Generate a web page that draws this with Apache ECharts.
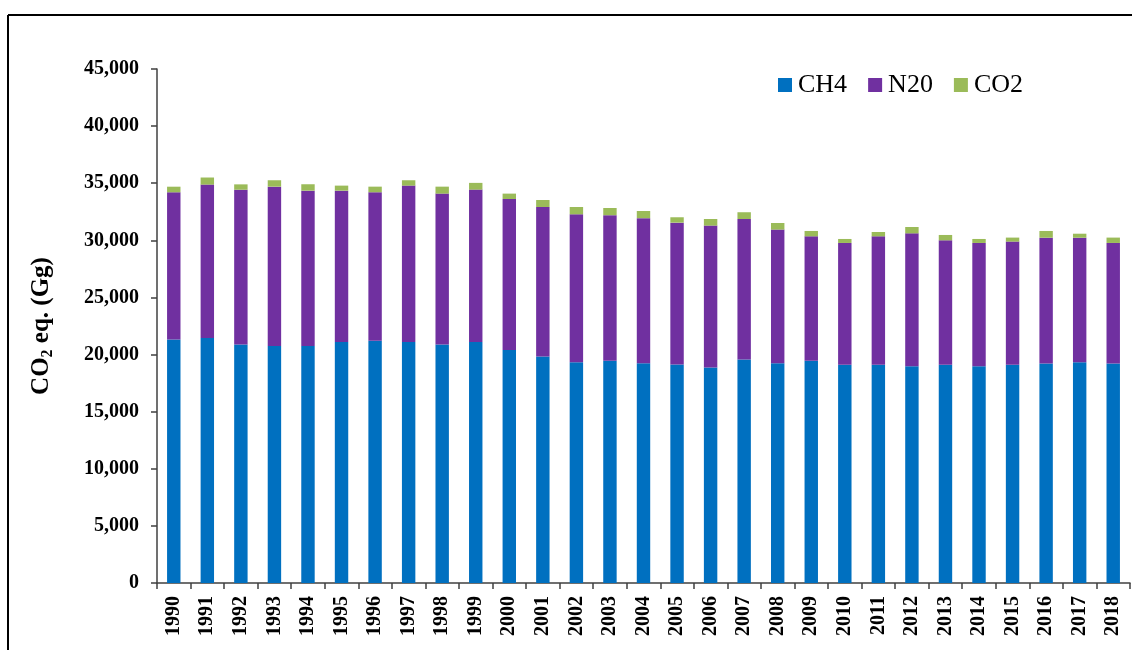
<!DOCTYPE html>
<html>
<head>
<meta charset="utf-8">
<script src="https://cdn.jsdelivr.net/npm/echarts@6/dist/echarts.min.js"></script>
<style>
html,body{margin:0;padding:0;background:#fff;}
#chart{width:1132px;height:650px;}
</style>
</head>
<body>
<div id="chart"></div>
<script>
const years = ['1990','1991','1992','1993','1994','1995','1996','1997','1998','1999','2000','2001','2002','2003','2004','2005','2006','2007','2008','2009','2010','2011','2012','2013','2014','2015','2016','2017','2018'];
const ch4 = [21316,21440,20880,20740,20740,21090,21200,21090,20880,21090,20390,19830,19330,19450,19240,19120,18860,19560,19240,19450,19100,19100,18980,19100,18980,19100,19220,19330,19220];
const n2o = [12890,13440,13550,13960,13610,13260,13010,13700,13210,13350,13230,13090,12950,12750,12700,12430,12430,12310,11700,10900,10670,11250,11630,10900,10790,10790,11010,10900,10550];
const co2 = [490,620,470,560,560,440,490,470,610,590,470,610,640,630,630,470,580,590,580,470,350,380,560,470,350,350,590,350,470];
const seriesNames = ['CH4','N20','CO2'];
const yTicks = {min:0, max:45000, interval:5000};

const FONT = "'Liberation Serif','Times New Roman',serif";
const chart = echarts.init(document.getElementById('chart'), null, {renderer:'canvas'});
const mk = (name, data, color) => ({
  name, type:'bar', stack:'total', data, barWidth:'40%',
  itemStyle:{color}, emphasis:{disabled:true}
});
chart.setOption({
  animation:false,
  backgroundColor:'#fff',
  textStyle:{fontFamily:FONT},
  grid:{left:157, right:2, top:69, bottom:67, containLabel:false},
  legend:{
    data:seriesNames, left:773, top:67, itemWidth:14, itemHeight:14, itemGap:21,
    icon:'rect',
    textStyle:{fontFamily:FONT, fontSize:26, color:'#000', padding:[0,0,0,1]}
  },
  xAxis:{
    type:'category', data:years,
    axisLine:{lineStyle:{color:'#404040', width:1.5}},
    axisTick:{show:true, length:6, alignWithLabel:false, lineStyle:{color:'#404040', width:1.5}},
    axisLabel:{rotate:90, fontFamily:FONT, fontSize:20, fontWeight:'bold', color:'#000', margin:13, interval:0}
  },
  yAxis:{
    type:'value', min:yTicks.min, max:yTicks.max, interval:yTicks.interval,
    name:'{a|CO}{b|2}{a| eq. (Gg)}',
    nameLocation:'middle', nameRotate:90, nameGap:101,
    nameTextStyle:{
      rich:{
        a:{fontFamily:FONT, fontSize:25, fontWeight:'bold', color:'#000'},
        b:{fontFamily:FONT, fontSize:16, fontWeight:'bold', color:'#000', verticalAlign:'bottom', padding:[12,0,0,0]}
      }
    },
    axisLine:{show:true, lineStyle:{color:'#404040', width:1.5}},
    axisTick:{show:true, length:6, lineStyle:{color:'#404040', width:1.5}},
    splitLine:{show:false},
    axisLabel:{fontFamily:FONT, fontSize:20, fontWeight:'bold', color:'#000', margin:18,
      formatter:v=>v.toLocaleString('en-US')}
  },
  graphic:[
    {type:'line', shape:{x1:8, y1:15, x2:1132, y2:15}, style:{stroke:'#000', lineWidth:2}},
    {type:'line', shape:{x1:8, y1:15, x2:8, y2:650}, style:{stroke:'#000', lineWidth:2}}
  ],
  series:[
    mk(seriesNames[0], ch4, '#0070C0'),
    mk(seriesNames[1], n2o, '#7030A0'),
    mk(seriesNames[2], co2, '#9BBB59')
  ]
});
</script>
</body>
</html>
